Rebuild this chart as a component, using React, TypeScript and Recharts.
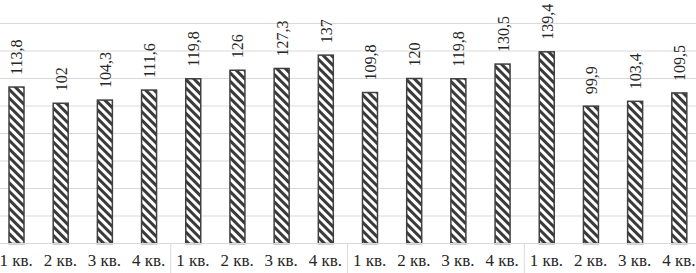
import { BarChart, Bar, XAxis, YAxis, CartesianGrid } from 'recharts';

const quarters = [
  '1 кв.', '2 кв.', '3 кв.', '4 кв.',
  '1 кв.', '2 кв.', '3 кв.', '4 кв.',
  '1 кв.', '2 кв.', '3 кв.', '4 кв.',
  '1 кв.', '2 кв.', '3 кв.', '4 кв.',
];
const values = [
  113.8, 102, 104.3, 111.6,
  119.8, 126, 127.3, 137,
  109.8, 120, 119.8, 130.5,
  139.4, 99.9, 103.4, 109.5,
];
const yTicks = [0, 20, 40, 60, 80, 100, 120, 140, 160];
const groupSize = 4;

const data = quarters.map((q, i) => ({ key: `${i}`, quarter: q, value: values[i] }));

const CHART_W = 707;
const CHART_H = 273;
const AXIS_H = 29.5;
const BAND = CHART_W / quarters.length;
const FONT = "'Liberation Serif', 'Times New Roman', serif";

const fmt = (v: number) => String(v).replace('.', ',');

// quarter label + group separator below the axis
function QuarterTick(props: any) {
  const { x, y, index } = props;
  const label = quarters[index];
  return (
    <g>
      {index % groupSize === 0 && index > 0 && (
        <line
          x1={x - BAND / 2}
          x2={x - BAND / 2}
          y1={CHART_H - AXIS_H}
          y2={CHART_H}
          stroke="#d9d9d9"
          strokeWidth={1}
        />
      )}
      <text x={x} y={y + 14} textAnchor="middle" style={{ fontFamily: FONT, fontSize: 17 }} fill="#262626">
        {label}
      </text>
    </g>
  );
}

// hatched bar with a vertical value label above it
function HatchBar(props: any) {
  const { x, y, width, height, value } = props;
  const v = Array.isArray(value) ? value[1] : value;
  const ax = x + width / 2 + 0.5;
  const ay = y - 12;
  return (
    <g>
      <rect x={x} y={y} width={width} height={height} fill="url(#hatch)" stroke="#404040" strokeWidth={1.5} />
      <g transform={`translate(${ax} ${ay}) rotate(-90)`}>
        <text x={0} y={0} dy="0.34em" textAnchor="start" style={{ fontFamily: FONT, fontSize: 16 }} fill="#262626">
          {fmt(v)}
        </text>
      </g>
    </g>
  );
}

export default function App() {
  return (
    <div
      style={{
        position: 'fixed',
        left: 0,
        top: 0,
        width: 696,
        height: 273,
        overflow: 'hidden',
        background: '#fff',
        fontFamily: FONT,
      }}
    >
      <div style={{ position: 'absolute', left: -6.3, top: 0 }}>
        <BarChart
          width={CHART_W}
          height={CHART_H}
          data={data}
          margin={{ top: 23.5, right: 0, left: 0, bottom: 0 }}
          barSize={15}
          style={{ overflow: 'visible' }}
        >
          <defs>
            <pattern id="hatch" width="6" height="6" patternUnits="userSpaceOnUse" patternTransform="rotate(-45)">
              <rect x="0" y="0" width="6" height="6" fill="#ffffff" />
              <rect x="0" y="0" width="3" height="6" fill="#3a3a3a" />
            </pattern>
          </defs>
          <CartesianGrid vertical={false} stroke="#d9d9d9" />
          <XAxis
            dataKey="key"
            axisLine={{ stroke: '#d9d9d9' }}
            tickLine={false}
            tick={<QuarterTick />}
            interval={0}
            height={AXIS_H}
          />
          <YAxis hide domain={[0, 160]} ticks={yTicks} />
          <Bar dataKey="value" isAnimationActive={false} shape={<HatchBar />} />
        </BarChart>
      </div>
    </div>
  );
}
